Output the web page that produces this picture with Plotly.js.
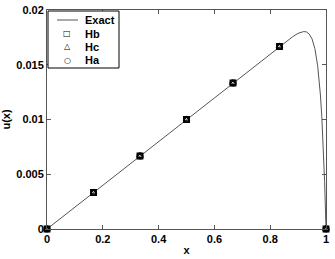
<!DOCTYPE html>
<html>
<head>
<meta charset="utf-8">
<script src="https://cdn.plot.ly/plotly-3.0.1.min.js"></script>
<style>html,body{margin:0;padding:0;background:#fff;}#chart{width:335px;height:259px;}</style>
</head>
<body>
<div id="chart"></div>
<script>
// Exact curve
var exactX = [0, 0.2, 0.4, 0.6, 0.8, 0.85, 0.88, 0.9, 0.91, 0.92, 0.93, 0.94, 0.95, 0.96, 0.97, 0.975, 0.98, 0.985, 0.99, 0.995, 1.0];
var exactY = [0, 0.004, 0.008, 0.012, 0.016, 0.01699, 0.01755, 0.01787, 0.01797, 0.01803, 0.01800, 0.01780, 0.01736, 0.01649, 0.01494, 0.01380, 0.01224, 0.01026, 0.00767, 0.00432, 0];
// Numerical solutions
var nodeX = [0, 0.1667, 0.3333, 0.5, 0.6667, 0.8333, 1.0];
var hbY = [0, 0.00333, 0.00667, 0.01, 0.01333, 0.01667, 0];
var hcY = [0, 0.00333, 0.00667, 0.01, 0.01333, 0.01667, 0];
var haY = [0, 0.00333, 0.00667, 0.01, 0.01333, 0.01667, 0];
var seriesNames = ['Exact', 'Hb', 'Hc', 'Ha'];
var legendGlyphs = ['', '\u25A1', '\u25B3', '\u25CB'];
var xTicks = [0, 0.2, 0.4, 0.6, 0.8, 1];
var xTickLabels = ['0', '0.2', '0.4', '0.6', '0.8', '1'];
var yTicks = [0, 0.005, 0.01, 0.015, 0.02];
var yTickLabels = ['0', '0.005', '0.01', '0.015', '0.02'];

var FAM = 'Liberation Sans Narrow, Liberation Sans, Arial, sans-serif';
var b = function(s){ return '<b>' + s + '</b>'; };
var mk = function(sym){ return {symbol: sym, size: 5.5, color: '#000', line: {color: '#000', width: 1.4}}; };
var traces = [
  {x: exactX, y: exactY, mode: 'lines', name: seriesNames[0], line: {color: '#555', width: 1}},
  {x: nodeX, y: hbY, mode: 'markers', name: seriesNames[1], marker: mk('square-open'), cliponaxis: false},
  {x: nodeX, y: hcY, mode: 'markers', name: seriesNames[2], marker: mk('triangle-up-open'), cliponaxis: false},
  {x: nodeX, y: haY, mode: 'markers', name: seriesNames[3], marker: mk('circle-open'), cliponaxis: false}
];
var fnt = {family: FAM, size: 11, color: '#000', weight: 'bold'};

// custom compact legend (plot-area relative coordinates)
var PL = 47, PT = 10, PW = 279, PH = 219;
var fx = function(px){ return (px - PL) / PW; };
var fy = function(py){ return 1 - (py - PT) / PH; };
var shapes = [
  {type: 'rect', xref: 'paper', yref: 'paper', x0: fx(48), x1: fx(119), y0: fy(11), y1: fy(68),
   line: {color: '#000', width: 1}, fillcolor: '#fff', layer: 'above'},
  {type: 'line', xref: 'paper', yref: 'paper', x0: fx(57), x1: fx(78), y0: fy(20), y1: fy(20),
   line: {color: '#555', width: 1}, layer: 'above'}
];
var rowsY = [20, 33.5, 47, 60.5];
var annotations = [];
for (var i = 0; i < seriesNames.length; i++) {
  annotations.push({xref: 'paper', yref: 'paper', x: fx(83), y: fy(rowsY[i]), xanchor: 'left', yanchor: 'middle',
    text: b(seriesNames[i]), showarrow: false, font: fnt});
  if (legendGlyphs[i]) {
    annotations.push({xref: 'paper', yref: 'paper', x: fx(67), y: fy(rowsY[i]), xanchor: 'center', yanchor: 'middle',
      text: legendGlyphs[i], showarrow: false, font: {family: 'DejaVu Sans', size: 8, color: '#000'}});
  }
}

var layout = {
  width: 335, height: 259,
  margin: {l: 47, r: 9, t: 10, b: 30},
  paper_bgcolor: '#fff', plot_bgcolor: '#fff',
  showlegend: false,
  shapes: shapes, annotations: annotations,
  xaxis: {range: [0, 1], tickvals: xTicks, ticktext: xTickLabels.map(b), ticks: 'inside', ticklen: 4, tickcolor: '#555',
          showline: true, linecolor: '#555', linewidth: 1, mirror: 'ticks', showgrid: false, zeroline: false,
          tickfont: fnt, title: {text: b('x'), font: fnt, standoff: 2}},
  yaxis: {range: [0, 0.02], tickvals: yTicks, ticktext: yTickLabels.map(b), ticks: 'inside', ticklen: 4, tickcolor: '#555',
          showline: true, linecolor: '#555', linewidth: 1, mirror: 'ticks', showgrid: false, zeroline: false,
          tickfont: fnt, title: {text: b('u(x)'), font: fnt, standoff: 6}}
};
Plotly.newPlot('chart', traces, layout, {displayModeBar: false, staticPlot: true});
</script>
</body>
</html>
